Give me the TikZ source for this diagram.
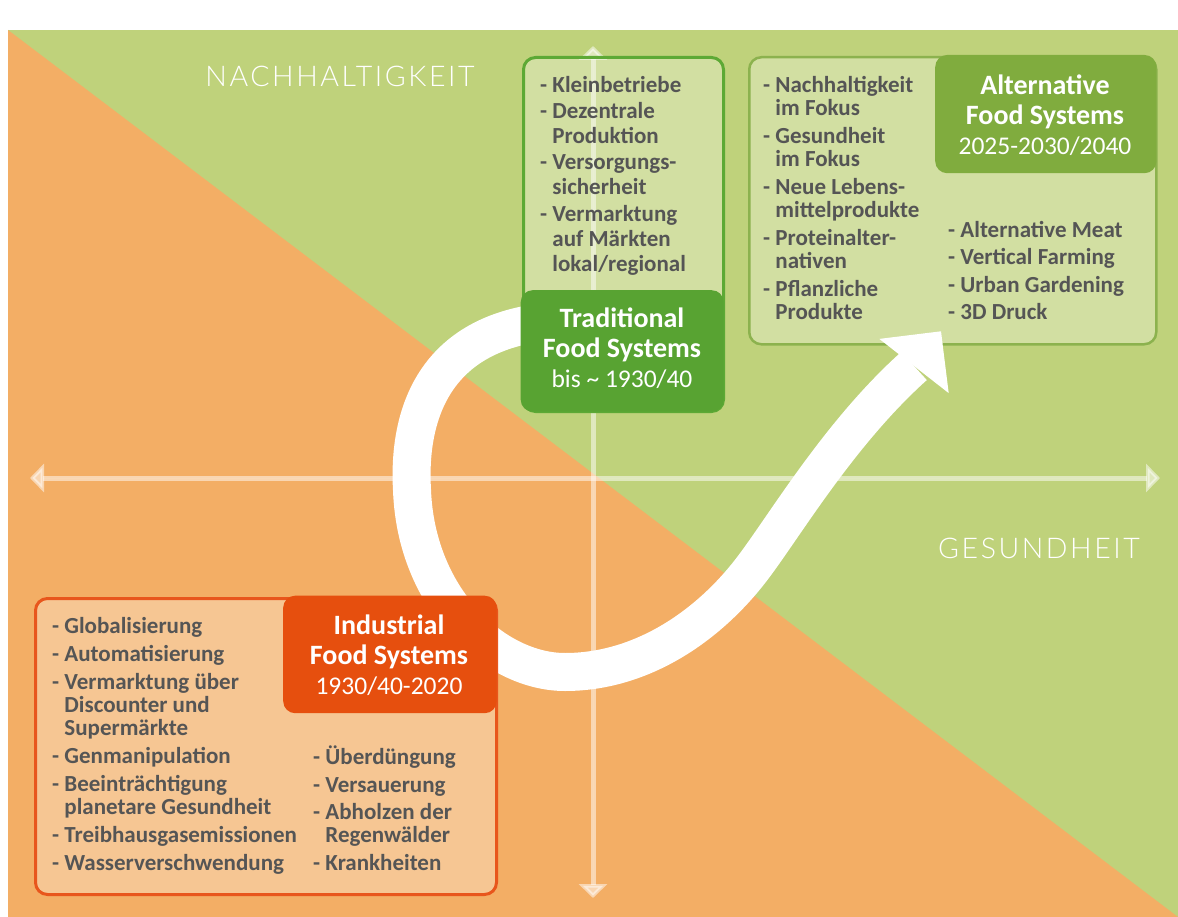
\documentclass[tikz,border=0pt]{standalone}
\usepackage{fontspec}
\setmainfont{Carlito}
\newfontfamily\axisfont[LetterSpace=9]{Lato Light}
\usetikzlibrary{arrows.meta}
\definecolor{bgorange}{HTML}{F3AE65}
\definecolor{bggreen}{HTML}{BFD27B}
\definecolor{tradborder}{HTML}{5DA935}
\definecolor{tradtitle}{HTML}{58A332}
\definecolor{altborder}{HTML}{8CB24E}
\definecolor{alttitle}{HTML}{80AC3E}
\definecolor{indborder}{HTML}{E8561C}
\definecolor{indtitle}{HTML}{E64F0E}
\definecolor{txtgray}{HTML}{555555}
\newcommand\myind{\hphantom{-}\ }
\begin{document}
\begin{tikzpicture}[x=1pt,y=-1pt,
  axisline/.style={draw=white, draw opacity=0.5, fill=white, fill opacity=0.5, line width=5,
    arrows={Triangle[width=28,length=14]-Triangle[width=28,length=14]}},
  axislabel/.style={inner sep=0, text=white, font=\axisfont\fontsize{28.5}{30}\selectfont},
  outerbox/.style={anchor=north west, inner sep=0, rounded corners=12, fill=white, fill opacity=0.3, text opacity=1},
  titlebox/.style={anchor=north west, inner sep=0, rounded corners=12},
  itemtext/.style={anchor=north west, inner sep=0, align=left, text=txtgray, font=\fontsize{23}{23}\selectfont\bfseries},
  titletext/.style={inner sep=0, align=center, text=white, font=\fontsize{28}{30}\selectfont},
  band/.style={draw=white, line width=38},
]
\useasboundingbox (0,0) rectangle (1178,917);
\fill[white] (0,0) rectangle (1178,917);
% background
\fill[bggreen] (8,30) rectangle (1178,917);
\fill[bgorange] (8,30) -- (1178,917) -- (8,917) -- cycle;

% axes
\coordinate (hl) at (30,478);
\coordinate (hr) at (1160,478);
\coordinate (vt) at (593,46);
\coordinate (vb) at (593,898);
\draw[axisline] (hl) -- (hr);
\draw[axisline] (vb) -- (vt);

% alternative box
\node[outerbox, draw=altborder, line width=2.5, minimum width=407, minimum height=287] (altbox) at (748,56) {};
\node[titlebox, fill=alttitle, minimum width=221.25, minimum height=118.25] (alttitlebox) at (935,54.75) {};

% S-shaped band
\coordinate (bandstart) at (545,322);
\coordinate (bandend) at (914,366);
\draw[band] (bandstart) .. controls (430,335) and (408,420) .. (412,490)
  .. controls (416,600) and (495,672) .. (565,672)
  .. controls (640,672) and (705,628) .. (748,574)
  .. controls (780,534) and (836,436) .. (bandend);
\coordinate (tip) at (941,331.3);
\coordinate (wingA) at (948.7,393.1);
\coordinate (wingB) at (879.3,338.9);
\fill[white] (tip) -- (wingA) -- (wingB) -- cycle;

% traditional box
\node[outerbox, draw=tradborder, line width=3, minimum width=200, minimum height=354] (tradbox) at (522,56) {};
\node[titlebox, fill=tradtitle, minimum width=203, minimum height=121.5] (tradtitlebox) at (520.5,290) {};

% industrial box
\node[outerbox, draw=indborder, line width=3, minimum width=461, minimum height=296] (indbox) at (34,597) {};
\node[titlebox, fill=indtitle, minimum width=213.5, minimum height=117.5] (indtitlebox) at (283,595.5) {};

% titles
\node[titletext] (tradtitle) at (622,348) {\textbf{Traditional}\\\textbf{Food Systems}\\{\fontsize{25.5}{30}\selectfont bis \textasciitilde{} 1930/40}};
\node[titletext] (alttitle) at (1045,115) {\textbf{Alternative}\\\textbf{Food Systems}\\{\fontsize{25.5}{30}\selectfont 2025-2030/2040}};
\node[titletext] (indtitle) at (389,655) {\textbf{Industrial}\\\textbf{Food Systems}\\{\fontsize{25.5}{30}\selectfont 1930/40-2020}};

% item lists
\node[itemtext, font=\fontsize{23}{25}\selectfont\bfseries] (traditems) at (540,76) {- Kleinbetriebe\\[1pt]
- Dezentrale\\\myind Produktion\\[1pt]
- Versorgungs-\\\myind sicherheit\\[2pt]
- Vermarktung\\\myind auf Märkten\\\myind lokal/regional};

\node[itemtext] (altitemsA) at (763,76) {- Nachhaltigkeit\\\myind im Fokus\\[5pt]
- Gesundheit\\\myind im Fokus\\[5pt]
- Neue Lebens-\\\myind mittelprodukte\\[5pt]
- Proteinalter-\\\myind nativen\\[5pt]
- Pflanzliche\\\myind Produkte};

\node[itemtext] (altitemsB) at (948,221) {- Alternative Meat\\[4.5pt]
- Vertical Farming\\[4.5pt]
- Urban Gardening\\[4.5pt]
- 3D Druck};

\node[itemtext] (inditemsA) at (52,617) {- Globalisierung\\[5pt]
- Automatisierung\\[5pt]
- Vermarktung über\\\myind Discounter und\\\myind Supermärkte\\[5pt]
- Genmanipulation\\[5pt]
- Beeinträchtigung\\\myind planetare Gesundheit\\[5pt]
- Treibhausgasemissionen\\[5pt]
- Wasserverschwendung};

\node[itemtext] (inditemsB) at (313,746) {- Überdüngung\\[4.5pt]
- Versauerung\\[4.5pt]
- Abholzen der\\\myind Regenwälder\\[5pt]
- Krankheiten};

% axis labels
\node[axislabel] (nachh) at (340,76) {NACHHALTIGKEIT};
\node[axislabel] (gesund) at (1039,548) {GESUNDHEIT};
\end{tikzpicture}
\end{document}
